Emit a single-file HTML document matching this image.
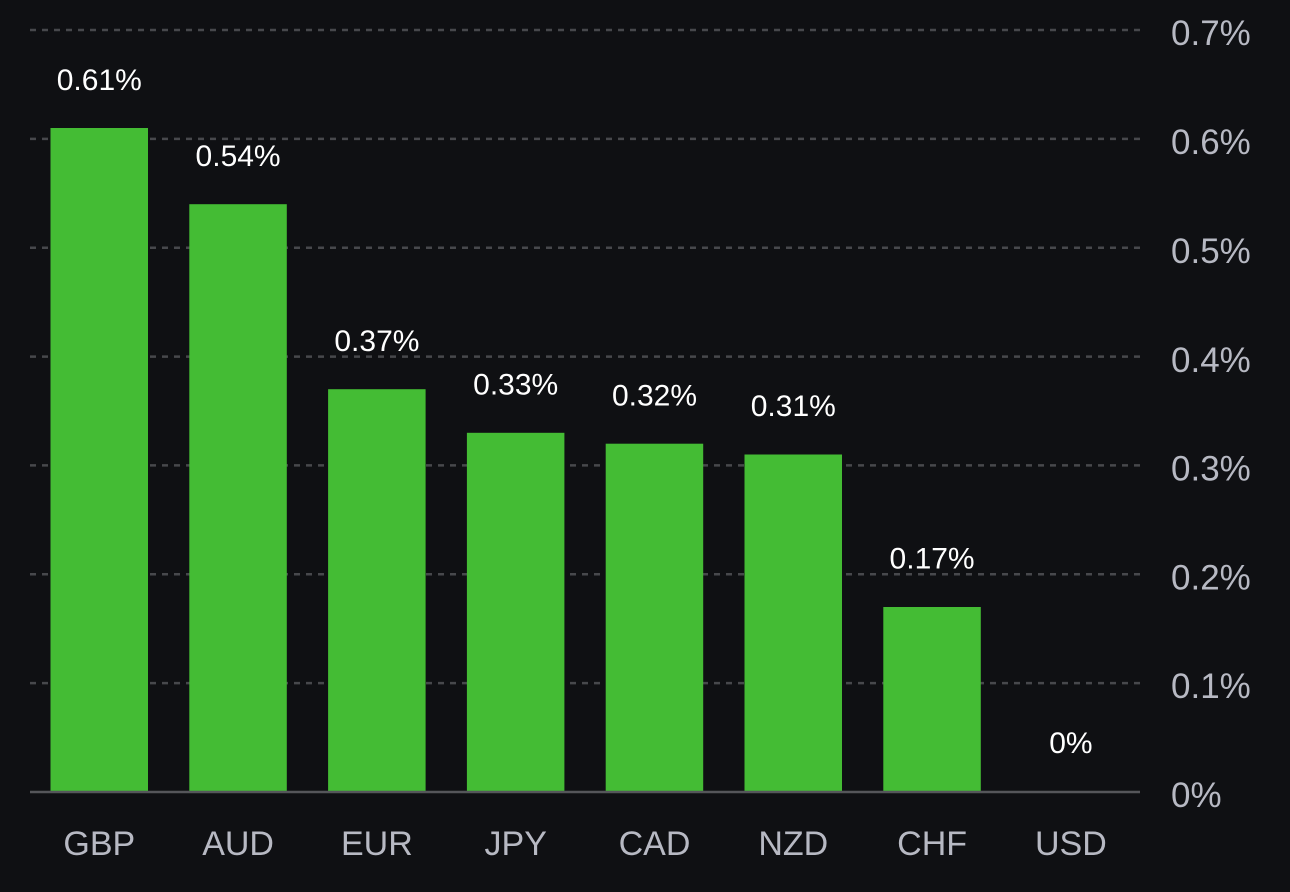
<!DOCTYPE html>
<html>
<head>
<meta charset="utf-8">
<style>
  html, body { margin: 0; padding: 0; background: #0f1013; }
  body { width: 1290px; height: 892px; overflow: hidden; }
  svg { display: block; }
  text { font-family: "Liberation Sans", "DejaVu Sans", sans-serif; }
</style>
</head>
<body>
<svg width="1290" height="892" viewBox="0 0 1290 892" xmlns="http://www.w3.org/2000/svg">
  <rect x="0" y="0" width="1290" height="892" fill="#0f1013"/>
  <!-- gridlines -->
  <g stroke="#47484c" stroke-width="2.5" stroke-dasharray="6 6">
    <line x1="30" y1="30" x2="1141" y2="30"/>
    <line x1="30" y1="138.9" x2="1141" y2="138.9"/>
    <line x1="30" y1="247.7" x2="1141" y2="247.7"/>
    <line x1="30" y1="356.6" x2="1141" y2="356.6"/>
    <line x1="30" y1="465.4" x2="1141" y2="465.4"/>
    <line x1="30" y1="574.3" x2="1141" y2="574.3"/>
    <line x1="30" y1="683.1" x2="1141" y2="683.1"/>
  </g>
  <!-- bars -->
  <g fill="#44bc34">
    <rect x="50.5" y="128" width="97.5" height="664"/>
    <rect x="189.3" y="204.2" width="97.5" height="587.8"/>
    <rect x="328.1" y="389.2" width="97.5" height="402.8"/>
    <rect x="466.9" y="432.8" width="97.5" height="359.2"/>
    <rect x="605.7" y="443.7" width="97.5" height="348.3"/>
    <rect x="744.5" y="454.5" width="97.5" height="337.5"/>
    <rect x="883.3" y="607" width="97.5" height="185"/>
  </g>
  <!-- baseline -->
  <line x1="30" y1="792" x2="1140" y2="792" stroke="#55565a" stroke-width="2.5"/>
  <!-- value labels -->
  <g fill="#ffffff" font-size="30" text-anchor="middle">
    <text x="99.3" y="90">0.61%</text>
    <text x="238.1" y="166">0.54%</text>
    <text x="376.9" y="351">0.37%</text>
    <text x="515.7" y="394.5">0.33%</text>
    <text x="654.5" y="405.5">0.32%</text>
    <text x="793.3" y="416">0.31%</text>
    <text x="932.1" y="568.5">0.17%</text>
    <text x="1070.9" y="753">0%</text>
  </g>
  <!-- y axis labels -->
  <g fill="#b7b9c3" font-size="35">
    <text x="1171" y="45">0.7%</text>
    <text x="1171" y="154">0.6%</text>
    <text x="1171" y="263">0.5%</text>
    <text x="1171" y="372">0.4%</text>
    <text x="1171" y="480.5">0.3%</text>
    <text x="1171" y="589.5">0.2%</text>
    <text x="1171" y="698">0.1%</text>
    <text x="1171" y="807">0%</text>
  </g>
  <!-- x axis labels -->
  <g fill="#b7b9c3" font-size="34" text-anchor="middle">
    <text x="99.3" y="855">GBP</text>
    <text x="238.1" y="855">AUD</text>
    <text x="376.9" y="855">EUR</text>
    <text x="515.7" y="855">JPY</text>
    <text x="654.5" y="855">CAD</text>
    <text x="793.3" y="855">NZD</text>
    <text x="932.1" y="855">CHF</text>
    <text x="1070.9" y="855">USD</text>
  </g>
</svg>
</body>
</html>
